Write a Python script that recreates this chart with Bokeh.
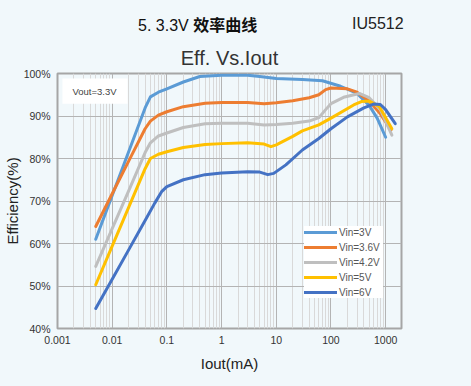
from bokeh.plotting import figure
from bokeh.layouts import column
from bokeh.models import (Label, BoxAnnotation, FixedTicker, CustomJSTickFormatter,
                          PrintfTickFormatter, Range1d, Legend, LegendItem, Div)
from bokeh.embed import file_html
from bokeh.resources import INLINE

# ---- data (Iout in mA, efficiency in %) ----
vin3_x = [0.005, 0.01, 0.02, 0.04, 0.05, 0.07, 0.1, 0.2, 0.4, 1, 3, 5, 10, 30, 70, 150, 300, 500, 700, 1000]
vin3_y = [61.0, 71.3, 81.6, 91.9, 94.5, 95.6, 96.4, 98.0, 99.3, 99.6, 99.6, 99.3, 98.8, 98.6, 98.3, 97.0, 95.3, 92.5, 89.5, 85.0]

vin36_x = [0.005, 0.01, 0.02, 0.04, 0.05, 0.07, 0.1, 0.2, 0.5, 1, 3, 6, 10, 20, 40, 60, 80, 100, 200, 300, 500, 800, 1250]
vin36_y = [64.0, 71.7, 79.4, 87.0, 88.8, 90.2, 91.0, 92.2, 93.0, 93.2, 93.2, 92.9, 93.1, 93.6, 94.3, 95.0, 96.2, 96.6, 96.4, 95.6, 93.5, 90.5, 86.7]

vin42_x = [0.005, 0.01, 0.02, 0.04, 0.05, 0.07, 0.1, 0.2, 0.5, 1, 3, 6, 10, 20, 40, 60, 80, 100, 170, 330, 500, 800, 1300]
vin42_y = [54.6, 63.5, 72.4, 81.4, 83.7, 85.3, 86.0, 87.3, 88.2, 88.3, 88.3, 87.9, 88.0, 88.3, 88.8, 89.6, 91.5, 92.9, 94.4, 95.3, 94.3, 91.5, 85.5]

vin5_x = [0.005, 0.01, 0.02, 0.04, 0.05, 0.07, 0.1, 0.2, 0.5, 1, 3, 6, 8, 10, 20, 30, 60, 110, 260, 360, 500, 770, 1300]
vin5_y = [50.3, 59.4, 68.5, 77.6, 80.0, 81.0, 81.6, 82.6, 83.3, 83.5, 83.7, 83.4, 82.8, 83.2, 85.2, 86.5, 87.9, 89.8, 92.6, 93.4, 93.5, 92.2, 87.0]

vin6_x = [0.005, 0.01, 0.02, 0.04, 0.06, 0.08, 0.1, 0.2, 0.5, 1, 3, 5, 7, 9, 15, 30, 60, 100, 200, 400, 600, 800, 1000, 1500]
vin6_y = [44.7, 51.6, 58.5, 65.4, 69.5, 72.2, 73.4, 75.0, 76.2, 76.6, 76.9, 76.8, 76.2, 76.5, 78.5, 82.0, 84.7, 87.0, 89.8, 91.9, 92.8, 92.7, 91.5, 88.2]

series_names = ["Vin=3V", "Vin=3.6V", "Vin=4.2V", "Vin=5V", "Vin=6V"]
series_colors = ["#5B9BD5", "#ED7D31", "#BFBFBF", "#FFC000", "#4472C4"]

x_ticks = [0.001, 0.01, 0.1, 1, 10, 100, 1000]
y_ticks = [40, 50, 60, 70, 80, 90, 100]

header_left = "5. 3.3V"
header_bold = "效率曲线"
header_right = "IU5512"
chart_title = "Eff. Vs.Iout"
note_text = "Vout=3.3V"

BG = "#F1F8FB"
FONT = "Liberation Sans"

header = Div(
    text=('<div style="position:relative;width:471px;height:38px;color:#111;">'
          '<span style="position:absolute;left:138px;top:15px;font-size:16px;line-height:18px;'
          'font-family:\'Liberation Sans\';white-space:nowrap;">%s '
          '<b style="font-family:\'Noto Sans CJK SC\';">%s</b></span>'
          '<span style="position:absolute;left:352px;top:15px;font-size:16px;line-height:18px;'
          'font-family:\'Liberation Sans\';color:#222;">%s</span></div>')
    % (header_left, header_bold, header_right),
    width=471, height=38, margin=0, styles={"background-color": BG})

p = figure(frame_width=344, frame_height=255, x_axis_type="log", output_backend="svg",
           toolbar_location=None, x_range=Range1d(0.001, 1950), y_range=Range1d(40, 100),
           min_border_left=54, min_border_right=73, min_border_top=35, min_border_bottom=58,
           background_fill_color=BG, border_fill_color=BG, title=chart_title, margin=0)

p.title.align = "center"
p.title.text_font = FONT
p.title.text_font_size = "20px"
p.title.text_font_style = "normal"
p.title.text_color = "#333333"
p.title.standoff = 9

p.outline_line_color = "#A6A6A6"
p.outline_line_width = 2

minor = [m * d for d in [0.001, 0.01, 0.1, 1, 10, 100, 1000] for m in range(2, 10)]
p.xaxis.ticker = FixedTicker(ticks=x_ticks, minor_ticks=minor)
p.xaxis.formatter = CustomJSTickFormatter(code="return tick.toString();")
p.yaxis.ticker = FixedTicker(ticks=y_ticks)
p.yaxis.formatter = PrintfTickFormatter(format="%d%%")

for ax in (p.xaxis, p.yaxis):
    ax.axis_line_color = None
    ax.major_tick_line_color = None
    ax.minor_tick_line_color = None
    ax.major_tick_out = 0
    ax.minor_tick_out = 0
    ax.major_label_text_font = FONT
    ax.major_label_text_font_size = "10.5px"
    ax.major_label_text_color = "#333333"
    ax.axis_label_text_font = FONT
    ax.axis_label_text_font_style = "normal"
    ax.axis_label_text_color = "#222222"
    ax.axis_label_text_font_size = "15px"

p.xaxis.axis_label = "Iout(mA)"
p.yaxis.axis_label = "Efficiency(%)"
p.xaxis.major_label_standoff = 7
p.xaxis.axis_label_standoff = 8
p.yaxis.major_label_standoff = 7
p.yaxis.axis_label_standoff = 0

p.xgrid.grid_line_color = "#B4B4B4"
p.xgrid.minor_grid_line_color = "#D9D9D9"
p.ygrid.grid_line_color = "#B4B4B4"

xs = [vin3_x, vin36_x, vin42_x, vin5_x, vin6_x]
ys = [vin3_y, vin36_y, vin42_y, vin5_y, vin6_y]
items = []
for name, c, x, y in zip(series_names, series_colors, xs, ys):
    r = p.line(x, y, line_color=c, line_width=3, line_join="round", line_cap="round")
    items.append(LegendItem(label=name, renderers=[r]))

legend = Legend(items=items, location=(247, 30), background_fill_color="white",
                background_fill_alpha=1, border_line_color=None,
                label_text_font=FONT, label_text_font_size="10px", label_text_color="#555555",
                glyph_width=33, glyph_height=12, label_height=12, label_width=44,
                label_standoff=2, spacing=3, padding=5, margin=0)
p.add_layout(legend, "center")

# Vout note box
p.add_layout(BoxAnnotation(left=0.00123, right=0.0191, bottom=92.9, top=98.8,
                           fill_color="white", fill_alpha=1, line_color=None))
p.add_layout(Label(x=0.00188, y=95.8, text=note_text, text_font=FONT, text_font_size="9.5px",
                   text_color="#444444", text_baseline="middle"))

layout = column(header, p, spacing=0, margin=0, styles={"background-color": BG})

html = file_html(layout, INLINE)
html = html.replace("</head>", "<style>html, body { background: %s; }</style></head>" % BG, 1)
open("out.html", "w").write(html)
